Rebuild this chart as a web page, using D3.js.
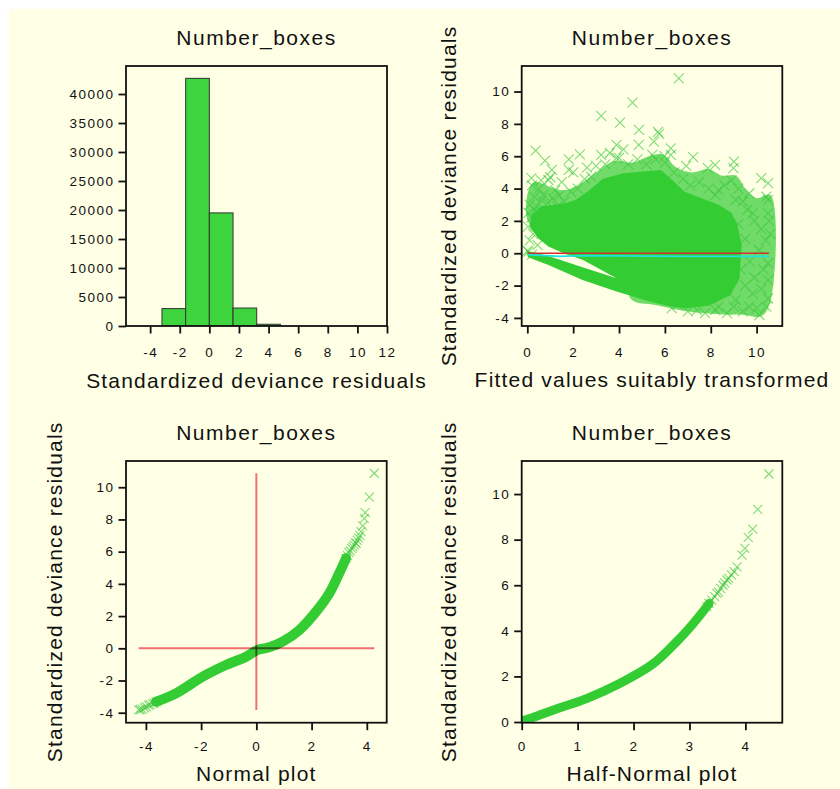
<!DOCTYPE html>
<html>
<head>
<meta charset="utf-8">
<script src="https://cdn.jsdelivr.net/npm/d3@7"></script>
<style>
body { margin: 0; background: #fff; }
text { font-family: "Liberation Sans", Arial, sans-serif; fill: #111; }
</style>
</head>
<body>
<div id="chart"></div>
<script>
// ---- histogram of residuals
var histEdges = [-3.2, -1.6, 0, 1.6, 3.2, 4.8];
var histCounts = [3000, 42700, 19500, 3100, 300];
var histTicks = [-4, -2, 0, 2, 4, 6, 8, 10, 12];
var countTicks = [0, 5000, 10000, 15000, 20000, 25000, 30000, 35000, 40000];

// ---- residuals vs fitted values (dense cloud outline + visible single points)
var cloudCore = [[-0.05,0.16],[0.92,-0.17],[2.41,-0.87],[3.89,-1.55],
  [2.41,-0.41],[1.66,-0.04],[0.92,0.41],[0.47,0.93],[0.10,1.65],
  [0.2,2.4],[0.6,2.9],[1.2,3.0],[1.7,3.1],[2.1,3.3],[2.70,3.90],[3.30,4.6],[4.19,4.95],
  [5.08,5.05],[5.82,5.15],[6.26,4.6],[6.86,3.8],[7.60,3.40],[8.34,3.0],[8.9,2.5],
  [9.15,1.8],[9.35,0.5],[9.25,-1.6],[8.85,-2.6],[7.9,-3.25],[6.86,-3.4],[6.12,-3.25],
  [5.37,-3.0],[3.89,-2.37],[2.41,-1.65],[0.92,-0.72],[0.03,-0.25]];
var cloudHalo = [[0.05,1.9],[0.0,3.6],[0.3,4.4],[1.0,4.1],[1.6,3.9],[2.3,4.3],[3.0,5.0],
  [3.8,5.7],[4.6,5.6],[5.3,6.0],[5.9,6.1],[6.5,5.3],[7.2,5.0],[7.9,5.2],[8.5,4.8],[9.1,4.8],
  [9.6,3.8],[10.0,3.4],[10.6,3.6],[10.6,-3.0],[10.2,-3.9],[9.4,-3.8],[8.7,-3.8],[7.7,-3.7],
  [6.8,-3.55],[5.6,-3.2],[4.5,-2.8],[4.5,1.0],[0.5,1.6]];
var cloudPoints = [[6.61,10.82],[4.59,9.31],[3.22,8.49],[4.04,8.08],[4.87,7.63],[5.75,7.38],
  [5.70,7.50],[0.36,6.35],[0.77,5.73],[2.29,6.12],[1.81,5.81],[3.22,6.08],[3.89,6.70],
  [4.19,6.43],[4.86,6.70],[5.52,6.90],[6.26,6.49],[6.26,6.08],[7.23,5.94],[6.93,5.40],
  [7.87,5.26],[8.19,5.46],[9.01,5.67],[8.99,5.26],[10.2,4.64],[10.5,4.33],[10.42,3.5],
  [1.07,5.15],[1.81,5.15],[3.89,5.90],[2.78,4.74],[0.18,4.64],[0.92,4.53],[5.45,6.08],
  [5.98,6.0],[7.75,-3.71],[8.71,-3.71],[10.12,-3.82],[10.42,-3.3],[9.68,-3.3],[6.56,-3.2],
  [8.34,-3.3],[9.09,-2.89],[9.83,-2.5],[10.5,-1.65],[10.5,-0.62],[10.5,2.47],[10.5,3.3],
  [9.83,2.47],[9.68,3.71],[9.09,3.3],[8.34,3.91],[0.33,2.68],[0.62,3.3],[1.22,3.91],
  [0.03,1.65],[1.81,2.68],[0.18,2.2],[0.05,0.1],[0.2,-0.1],[0.0,0.15],
  [0.1,3.0],[0.3,3.5],[0.5,4.0],[0.2,4.2],[0.7,3.6],[0.9,3.1],[1.1,3.4],[1.4,3.6],[1.6,3.2],
  [0.4,2.9],[0.8,2.3],[1.3,2.9],[0.6,4.5],[1.0,4.7],[1.5,4.4],[1.9,3.8],[2.2,4.0],[2.5,4.6],
  [2.0,5.0],[2.6,5.3],[3.0,5.4],[3.4,5.5],[3.6,6.2],[4.0,5.9],[4.4,5.5],[4.8,5.8],[5.2,5.5],
  [5.6,5.8],[6.0,5.6],[6.4,5.0],[6.8,4.6],[7.1,4.2],[7.5,4.4],[7.9,4.0],[8.2,3.6],[8.6,4.2],
  [8.9,4.5],[9.2,4.0],[9.4,3.2],[9.6,2.7],[9.9,2.0],[10.2,1.5],[10.4,0.8],[10.1,0.2],
  [9.7,-0.5],[10.3,-1.0],[9.9,-1.5],[10.2,-2.2],[9.5,-2.0],[9.3,-1.0],[9.5,0.9],[9.2,1.8],
  [9.0,-3.3],[8.2,-3.5],[7.4,-3.5],[7.0,-3.6],[6.3,-3.4],[10.5,-2.8],[10.0,-3.4],[9.4,-3.6],
  [10.6,1.2],[10.55,2.0],[0.05,2.5],[0.1,0.8],[0.25,1.2],[0.45,0.5]];
var fitLineX = [0.03, 10.54];
var fitLineY = [0, 0];
var smoothX = [0.03, 1.4, 2.4, 6.9, 10.54];
var smoothY = [-0.08, -0.2, -0.15, -0.2, -0.2];
var fittedTicks = [0, 2, 4, 6, 8, 10];
var residTicks = [-4, -2, 0, 2, 4, 6, 8, 10];

// ---- normal plot
var normalX = [-4.26,-4.2,-4.13,-4.05,-3.99,-3.9,-3.85,-3.75,-3.7,-3.63,-2.91,-1.94,-1.10,-0.37,
  0.05,0.47,0.95,1.56,2.16,2.64,3.00,3.25,3.30,3.35,3.40,3.45,3.50,3.55,3.60,3.61,3.65,3.70,
  3.75,3.79,3.85,3.91,3.94,4.09,4.27];
var normalY = [-3.83,-3.8,-3.78,-3.7,-3.63,-3.55,-3.5,-3.45,-3.4,-3.32,-2.80,-1.76,-1.04,-0.52,
  -0.10,0.06,0.41,1.14,2.27,3.41,4.66,5.59,5.75,5.95,6.05,6.2,6.3,6.4,6.55,6.52,6.7,6.85,
  7.0,7.24,7.6,8.07,8.42,9.38,10.87];
var normalTicks = [-4, -2, 0, 2, 4];

// ---- half-normal plot
var halfX = [0,0.2,0.57,1.17,1.76,2.36,2.77,3.07,3.31,3.35,3.4,3.45,3.49,3.52,3.56,3.6,3.63,
  3.67,3.7,3.75,3.8,3.85,3.94,3.99,4.05,4.13,4.22,4.42];
var halfY = [0.05,0.2,0.53,1.04,1.70,2.57,3.52,4.33,5.06,5.2,5.35,5.5,5.64,5.7,5.85,6.0,6.1,
  6.23,6.3,6.45,6.6,6.81,7.32,7.62,8.10,8.46,9.33,10.88];
var halfTicks = [0, 1, 2, 3, 4];
var absResidTicks = [0, 2, 4, 6, 8, 10];

var W = 840, H = 789;
var green = "#33cc33";
var svg = d3.select("#chart").append("svg").attr("width", W).attr("height", H);
svg.append("rect").attr("width", W).attr("height", H).attr("fill", "#fff");
svg.append("rect").attr("x", 9).attr("y", 9).attr("width", W - 9).attr("height", H - 9).attr("fill", "#ffffe6");

var clipId = 0;
function panel(box, xDom, yDom, xTicks, yTicks, xPad) {
  var x = d3.scaleLinear().domain(xDom).range([box.x0, box.x1]);
  var y = d3.scaleLinear().domain(yDom).range([box.y1, box.y0]);
  var fmt = function (d) { return String(d); };
  var g = svg.append("g");
  var id = "clip" + (clipId++);
  g.append("clipPath").attr("id", id).append("rect")
    .attr("x", box.x0).attr("y", box.y0).attr("width", box.x1 - box.x0).attr("height", box.y1 - box.y0);
  var plot = g.append("g").attr("clip-path", "url(#" + id + ")");

  var ya = g.append("g").attr("transform", "translate(" + box.x0 + ",0)")
    .call(d3.axisLeft(y).tickValues(yTicks).tickSize(7.5).tickPadding(4).tickFormat(fmt));
  var xa = g.append("g").attr("transform", "translate(0," + box.y1 + ")")
    .call(d3.axisBottom(x).tickValues(xTicks).tickSize(7.5).tickPadding(xPad).tickFormat(fmt));
  [ya, xa].forEach(function (a) {
    a.select(".domain").remove();
    a.selectAll(".tick line").attr("stroke", "#111").attr("stroke-width", 1.8);
    a.selectAll("text").style("font-size", "13.5px").style("letter-spacing", "1.5px")
      .style("font-family", '"Liberation Sans", Arial, sans-serif').attr("fill", "#111");
  });
  g.append("rect").attr("x", box.x0).attr("y", box.y0)
    .attr("width", box.x1 - box.x0).attr("height", box.y1 - box.y0)
    .attr("fill", "none").attr("stroke", "#111").attr("stroke-width", 1.8);
  return {g: g, plot: plot, x: x, y: y, box: box};
}

function labels(p, title, xlab, ylab, titleY, xlabY, ylabX) {
  var cx = (p.box.x0 + p.box.x1) / 2, cy = (p.box.y0 + p.box.y1) / 2;
  var st = function (t) { return t.style("font-size", "21px").attr("text-anchor", "middle"); };
  st(p.g.append("text").attr("x", cx).attr("y", titleY).text(title)).style("letter-spacing", "1.5px");
  st(p.g.append("text").attr("x", cx).attr("y", xlabY).text(xlab)).style("letter-spacing", "1.2px");
  if (ylab) {
    st(p.g.append("text").attr("transform", "translate(" + ylabX + "," + cy + ") rotate(-90)").text(ylab))
      .style("letter-spacing", "1.2px");
  }
}

function crosses(p, pts, size) {
  var s = size / 2;
  p.plot.selectAll(null).data(pts).enter().append("path")
    .attr("d", function (d) {
      var cx = p.x(d[0]), cy = p.y(d[1]);
      return "M" + (cx - s) + "," + (cy - s) + "L" + (cx + s) + "," + (cy + s) +
        "M" + (cx - s) + "," + (cy + s) + "L" + (cx + s) + "," + (cy - s);
    })
    .attr("stroke", "rgba(60,200,60,0.65)").attr("stroke-width", 1.1).attr("fill", "none");
}

var ylab = "Standardized deviance residuals";

// ---- panel 1: histogram
var p1 = panel({x0: 126, x1: 387, y0: 66, y1: 326}, [-5.63, 12], [0, 44830], histTicks, countTicks, 13.5);
var bins = histCounts.map(function (c, i) { return {lo: histEdges[i], hi: histEdges[i + 1], n: c}; });
p1.plot.selectAll(".bar").data(bins).enter().append("rect").attr("class", "bar")
  .attr("x", function (d) { return p1.x(d.lo); })
  .attr("y", function (d) { return p1.y(d.n); })
  .attr("width", function (d) { return p1.x(d.hi) - p1.x(d.lo); })
  .attr("height", function (d) { return p1.y(0) - p1.y(d.n); })
  .attr("fill", "#3dd43d").attr("stroke", "#333").attr("stroke-width", 1);
labels(p1, "Number_boxes", "Standardized deviance residuals", null, 45, 388, 0);

// ---- panel 2: residuals vs fitted
var p2 = panel({x0: 521.7, x1: 782.3, y0: 66, y1: 326}, [-0.245, 11.12], [-4.5, 11.58], fittedTicks, residTicks, 13.5);
var poly = d3.line().x(function (d) { return p2.x(d[0]); }).y(function (d) { return p2.y(d[1]); })
  .curve(d3.curveCatmullRomClosed);
p2.plot.append("path").attr("d", poly(cloudHalo)).attr("fill", green).attr("fill-opacity", 0.7);
crosses(p2, cloudPoints, 10);
p2.plot.append("path").attr("d", poly.curve(d3.curveLinearClosed)(cloudCore)).attr("fill", green);
var ln2 = d3.line().x(function (d) { return p2.x(d[0]); }).y(function (d) { return p2.y(d[1]); });
p2.plot.append("path").attr("d", ln2(d3.zip(fitLineX, fitLineY)))
  .attr("fill", "none").attr("stroke", "#d03030").attr("stroke-width", 1.5);
p2.plot.append("path").attr("d", ln2(d3.zip(smoothX, smoothY)))
  .attr("fill", "none").attr("stroke", "#20e0e0").attr("stroke-width", 1.8);
labels(p2, "Number_boxes", "Fitted values suitably transformed", ylab, 45, 387, 456);

// ---- panel 3: normal plot
var p3 = panel({x0: 126, x1: 386.7, y0: 461, y1: 722.7}, [-4.72, 4.72], [-4.62, 11.63], normalTicks, residTicks, 11.5);
var nPts = d3.zip(normalX, normalY);
var band = d3.line().curve(d3.curveCatmullRom);
p3.plot.append("path")
  .attr("d", band.x(function (d) { return p3.x(d[0]); }).y(function (d) { return p3.y(d[1]); })(
    nPts.filter(function (d) { return d[0] > -3.7 && d[0] < 3.3; })))
  .attr("fill", "none").attr("stroke", green).attr("stroke-width", 10).attr("stroke-linecap", "round");
crosses(p3, nPts.filter(function (d) { return d[0] <= -3.6 || d[0] >= 3.2; }), 9);
var xr = d3.extent(normalX), yr = d3.extent(normalY);
p3.plot.append("line").attr("x1", p3.x(0)).attr("x2", p3.x(0)).attr("y1", p3.y(yr[1])).attr("y2", p3.y(yr[0]))
  .attr("stroke", "#f07070").attr("stroke-width", 2).style("mix-blend-mode", "multiply");
p3.plot.append("line").attr("x1", p3.x(xr[0])).attr("x2", p3.x(xr[1])).attr("y1", p3.y(0)).attr("y2", p3.y(0))
  .attr("stroke", "#f07070").attr("stroke-width", 2).style("mix-blend-mode", "multiply");
labels(p3, "Number_boxes", "Normal plot", ylab, 440, 781, 61.5);

// ---- panel 4: half-normal plot
var p4 = panel({x0: 521.7, x1: 782.3, y0: 461, y1: 722.7}, [0, 4.66], [-0.03, 11.45], halfTicks, absResidTicks, 11.5);
var hPts = d3.zip(halfX, halfY);
p4.plot.append("path")
  .attr("d", band.x(function (d) { return p4.x(d[0]); }).y(function (d) { return p4.y(d[1]); })(
    hPts.filter(function (d) { return d[0] < 3.4; })))
  .attr("fill", "none").attr("stroke", green).attr("stroke-width", 9).attr("stroke-linecap", "round");
crosses(p4, hPts.filter(function (d) { return d[0] >= 3.3; }), 9);
labels(p4, "Number_boxes", "Half-Normal plot", ylab, 440, 781, 456);
</script>
</body>
</html>
